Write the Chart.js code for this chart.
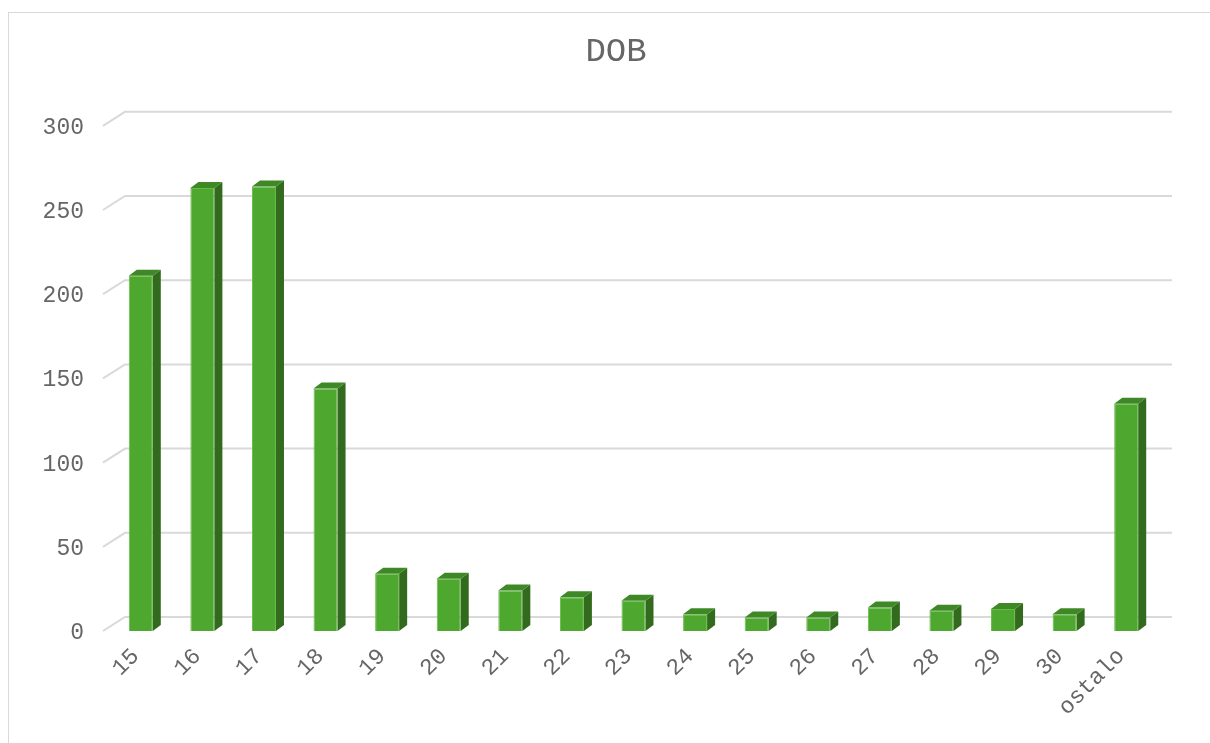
<!DOCTYPE html>
<html>
<head>
<meta charset="utf-8">
<script src="https://cdn.jsdelivr.net/npm/chart.js@4.4.1/dist/chart.umd.min.js"></script>
<style>
  html, body { margin: 0; padding: 0; background: #fff; }
  #wrap { position: relative; width: 1210px; height: 743px; overflow: hidden; }
  #frame { position: absolute; left: 8px; top: 12px; width: 1300px; height: 900px; border: 1px solid #d9d9d9; box-sizing: border-box; }
  canvas { position: absolute; left: 0; top: 0; }
</style>
</head>
<body>
<div id="wrap">
  <div id="frame"></div>
  <canvas id="chart" width="1210" height="743"></canvas>
</div>
<script>
// Data
const categories = ['15', '16', '17', '18', '19', '20', '21', '22', '23', '24', '25', '26', '27', '28', '29', '30', 'ostalo'];
const counts = [211, 263, 264, 144, 34, 31, 24, 20, 18, 10, 8, 8, 14, 12, 13, 10, 135];
const yTicks = [0, 50, 100, 150, 200, 250, 300];

const FONT = "'Courier New', 'Liberation Mono', monospace";
const DEPTH_X = 8, DEPTH_Y = 6;     // bar depth
const WALL_X = 22, WALL_Y = 14;     // back wall offset

// draws the back wall gridlines with their perspective stubs
const wallGrid = {
  id: 'wallGrid',
  beforeDatasetsDraw(chart) {
    const { ctx, chartArea, scales } = chart;
    const y = scales.y;
    ctx.save();
    ctx.strokeStyle = '#d9d9d9';
    ctx.lineWidth = 2;
    yTicks.forEach(v => {
      const yf = y.getPixelForValue(v);
      const x0 = chartArea.left - 7;
      ctx.beginPath();
      ctx.moveTo(x0, yf);
      ctx.lineTo(x0 + WALL_X, yf - WALL_Y);
      ctx.lineTo(chartArea.right + 15, yf - WALL_Y);
      ctx.stroke();
    });
    ctx.restore();
  }
};

// adds top and side faces to each bar
const barFaces = {
  id: 'barFaces',
  afterDatasetsDraw(chart) {
    const { ctx } = chart;
    const meta = chart.getDatasetMeta(0);
    ctx.save();
    meta.data.forEach(bar => {
      const { x, y, base, width } = bar.getProps(['x', 'y', 'base', 'width'], true);
      const l = x - width / 2, r = x + width / 2;
      // side
      ctx.fillStyle = '#336b1e';
      ctx.beginPath();
      ctx.moveTo(r, y);
      ctx.lineTo(r + DEPTH_X, y - DEPTH_Y);
      ctx.lineTo(r + DEPTH_X, base - DEPTH_Y);
      ctx.lineTo(r, base);
      ctx.closePath();
      ctx.fill();
      // top
      ctx.fillStyle = '#3e8826';
      ctx.beginPath();
      ctx.moveTo(l, y);
      ctx.lineTo(l + DEPTH_X, y - DEPTH_Y);
      ctx.lineTo(r + DEPTH_X, y - DEPTH_Y);
      ctx.lineTo(r, y);
      ctx.closePath();
      ctx.fill();
    });
    ctx.restore();
  }
};

const ctx = document.getElementById('chart').getContext('2d');
new Chart(ctx, {
  type: 'bar',
  data: {
    labels: categories,
    datasets: [{
      label: 'DOB',
      data: counts,
      backgroundColor: '#4ea72e',
      borderColor: '#66bb44',
      borderWidth: 1,
      categoryPercentage: 1,
      barPercentage: 0.39
    }]
  },
  options: {
    responsive: false,
    animation: false,
    layout: { padding: { left: 22, right: 0, top: 0, bottom: 0 } },
    plugins: {
      legend: { display: false },
      tooltip: { enabled: false },
      title: {
        display: true,
        text: 'DOB',
        color: '#666666',
        font: { family: FONT, size: 34, weight: 'normal' },
        padding: { top: 32, bottom: 53 }
      }
    },
    scales: {
      x: {
        grid: { display: false, drawTicks: false },
        border: { display: false },
        ticks: {
          color: '#666666',
          font: { family: FONT, size: 23 },
          minRotation: 45,
          maxRotation: 45,
          padding: 12,
          labelOffset: -5,
          autoSkip: false
        },
        afterFit: s => { s.height = 112; }
      },
      y: {
        min: 0,
        max: 300,
        grid: { display: false, drawTicks: false },
        border: { display: false },
        ticks: {
          stepSize: 50,
          color: '#666666',
          font: { family: FONT, size: 23 },
          padding: 26,
          labelOffset: 2
        },
        afterFit: s => { s.width = 88; }
      },
      // empty right-hand space so the title centres like the reference
      yRight: {
        position: 'right',
        display: true,
        grid: { display: false, drawTicks: false },
        border: { display: false },
        ticks: { display: false },
        afterFit: s => { s.width = 53; }
      }
    }
  },
  plugins: [wallGrid, barFaces]
});
</script>
</body>
</html>
